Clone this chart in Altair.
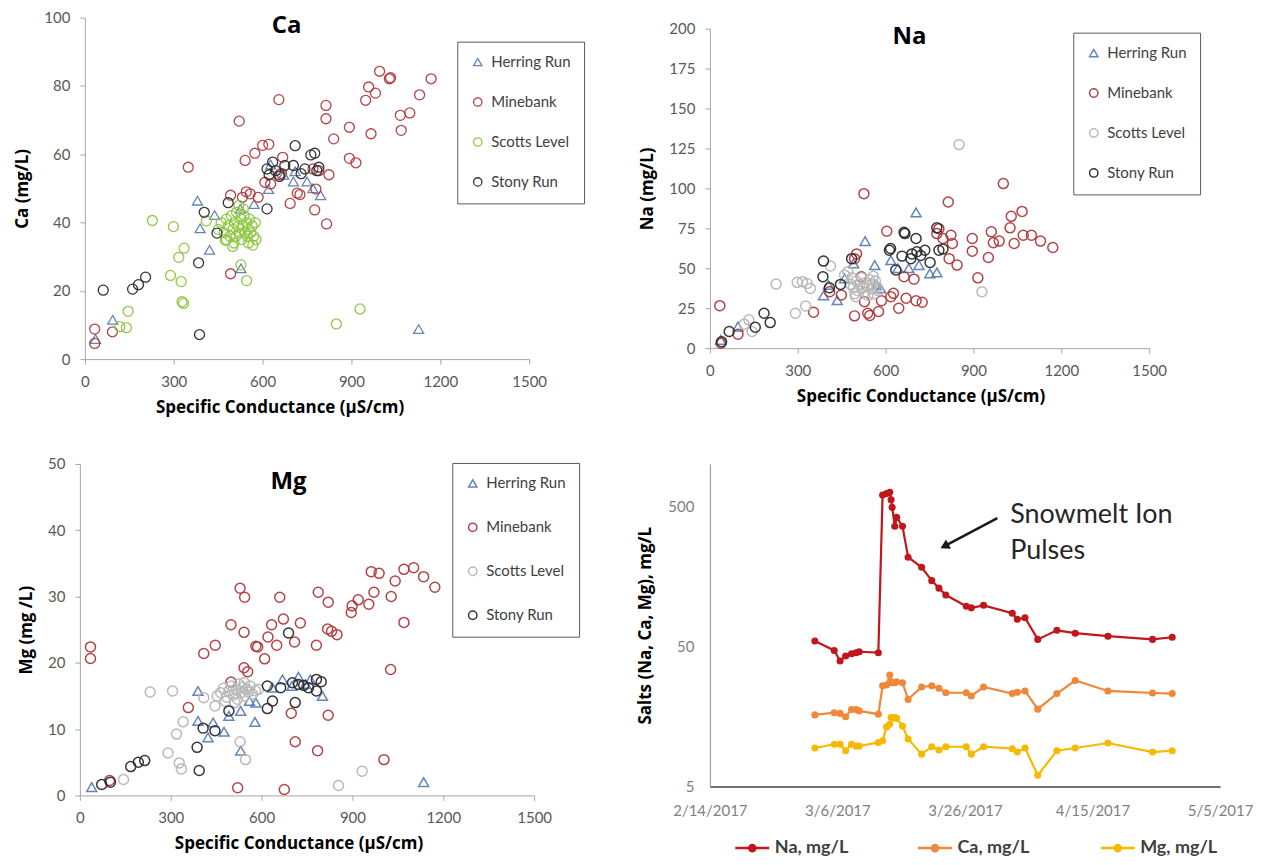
import altair as alt
import pandas as pd

FONT = "Lato"
TFONT = "Open Sans"
SITES = ["Herring Run", "Minebank", "Scotts Level", "Stony Run"]
SHAPES = ["triangle-up", "circle", "circle", "circle"]
SC_TICKS = [0, 300, 600, 900, 1200, 1500]
PANEL_TITLES = ["Ca", "Na", "Mg"]

# ---------------- Ca panel ----------------
ca_herring = [(36, 5.9), (94, 11.5), (380, 46.4), (389, 38.3), (421, 32), (438, 42.2), (527, 26.6),
              (525, 44), (571, 45.4), (620, 49.8), (627, 57), (671, 54), (704, 52), (710, 55),
              (750, 52), (770, 50), (796, 48), (1127, 8.8)]
ca_mine = [(33, 8.8), (33, 4.6), (93, 8.0), (349, 56.2), (492, 25), (492, 48), (521, 69.7), (532, 47.4),
           (541, 58.2), (545, 49), (558, 48.4), (585, 47.4), (574, 60.3), (600, 62.6), (621, 62.9),
           (608, 51.8), (627, 51.3), (655, 76), (657, 54), (664, 54.4), (668, 59.1), (693, 45.6),
           (717, 48.6), (726, 48.2), (776, 43.7), (780, 49.8), (770, 55.7), (790, 55.2), (814, 74.3),
           (814, 70.4), (816, 39.6), (824, 54), (840, 64.5), (893, 67.9), (893, 58.8), (915, 57.5),
           (948, 75.8), (958, 79.7), (981, 77.9), (995, 84.3), (966, 66), (1028, 82.1), (1032, 82.4),
           (1065, 71.4), (1068, 67), (1097, 72.1), (1130, 77.4), (1169, 82.1)]
ca_scotts = [(118, 9.5), (140, 9.2), (146, 14), (228, 40.6), (299, 38.8), (289, 24.5), (317, 29.8),
             (335, 32.5), (325, 22.7), (328, 16.8), (333, 16.3), (527, 27.6), (546, 23), (567, 33.4),
             (499, 33), (474, 34.8), (849, 10.3), (929, 14.7), (410, 40.5),
             (450, 38), (460, 40), (470, 37), (478, 41), (485, 39), (490, 36), (495, 42), (500, 38),
             (505, 40), (510, 36), (512, 43), (518, 39), (522, 37), (527, 41), (530, 35), (533, 39),
             (538, 42), (541, 37), (545, 40), (548, 36), (552, 38), (556, 41), (560, 37), (565, 39),
             (570, 36), (575, 40), (478, 35), (503, 34), (535, 44), (553, 34), (520, 45), (578, 35)]
ca_stony = [(62, 20.2), (161, 20.5), (181, 21.8), (205, 24), (384, 28.2), (387, 7.2), (403, 43),
            (446, 36.9), (484, 45.8), (615, 44), (615, 55.7), (634, 57.7), (644, 55.2), (657, 53.5),
            (675, 56.7), (704, 56.7), (710, 62.5), (730, 54.3), (743, 55.7), (763, 59.8), (776, 60.3),
            (783, 55.2), (790, 56.2), (622, 54)]

# ---------------- Na panel ----------------
na_herring = [(37, 5.2), (96, 13.5), (388, 33), (405, 39.5), (435, 30), (460, 43.7), (491, 53),
              (530, 67), (563, 52), (570, 39.5), (583, 37.4), (618, 55), (642, 50), (679, 50),
              (704, 85), (714, 52), (751, 46.8), (775, 47.4)]
na_mine = [(34, 26.6), (38, 3.1), (96, 8.7), (354, 22.5), (409, 35.3), (449, 33.3), (494, 20.2),
           (494, 56), (501, 59), (517, 44.7), (526, 96.7), (528, 29), (539, 21.8), (546, 20.4),
           (576, 22.9), (586, 29.7), (604, 73.2), (618, 32.2), (627, 34.3), (645, 25), (663, 44.7),
           (670, 31.2), (697, 43.2), (704, 29.7), (725, 28.7), (775, 71.7), (782, 74.8), (796, 68.6),
           (814, 91.5), (817, 56), (823, 70.7), (828, 65.5), (844, 52), (896, 68.6), (896, 60.7),
           (915, 44), (951, 56.7), (961, 72.8), (968, 66), (988, 67), (1002, 103), (1025, 75.3),
           (1029, 82.5), (1039, 65.5), (1066, 85.6), (1070, 70.7), (1098, 70.7), (1129, 67), (1171, 63)]
na_scotts = [(117, 15), (133, 17.7), (144, 10.4), (226, 40.1), (292, 21.8), (298, 41.2), (316, 41.6),
             (327, 26.4), (332, 40.5), (343, 37.4), (412, 51.4), (460, 45.7), (471, 47.8), (498, 32.2),
             (851, 127.4), (929, 35.3),
             (480, 40), (490, 38), (500, 42), (505, 36), (512, 40), (518, 44), (522, 38), (528, 35),
             (532, 41), (538, 39), (545, 43), (550, 37), (555, 40), (560, 34), (565, 42), (570, 38),
             (575, 36), (485, 44), (495, 34), (540, 33), (558, 45)]
na_stony = [(40, 4), (66, 10.4), (155, 13.1), (185, 21.8), (206, 16), (388, 54.5), (386, 44.7),
            (408, 37.8), (446, 39.9), (484, 56), (613, 61.3), (617, 62.4), (635, 48.9), (666, 71.7),
            (663, 72.5), (656, 57.6), (686, 56), (704, 68.6), (707, 60.3), (734, 61.3), (752, 53.6),
            (775, 75.3), (782, 61.3), (796, 62), (720, 58), (690, 59)]

# ---------------- Mg panel ----------------
mg_herring = [(39, 1.25), (390, 15.75), (390, 11.25), (440, 11), (423, 8.75), (476, 9.6), (492, 12),
              (531, 12.75), (531, 6.75), (560, 14.25), (578, 11.1), (581, 14), (636, 16.25), (669, 17.5),
              (722, 17.9), (761, 17.5), (801, 15), (1135, 2), (700, 16.5), (745, 16.8)]
mg_mine = [(35, 22.4), (35, 20.65), (98, 2.25), (358, 13.25), (409, 21.4), (447, 22.65), (499, 25.75),
           (499, 17.1), (521, 1.15), (529, 31.25), (542, 24.6), (544, 29.9), (542, 19.25), (554, 18.65),
           (581, 22.5), (587, 22.4), (610, 20.6), (621, 23.9), (633, 25.75), (650, 22.65), (660, 29.9),
           (672, 26.6), (675, 0.9), (698, 12.4), (709, 23.15), (711, 8.1), (728, 26), (781, 22.65),
           (785, 6.75), (787, 30.65), (820, 29.15), (820, 12.1), (818, 25.1), (831, 24.75), (849, 24.25),
           (896, 27.6), (899, 28.6), (919, 29.5), (954, 28.85), (962, 33.75), (971, 30.65), (988, 33.5),
           (1004, 5.4), (1028, 30), (1026, 19), (1041, 32.35), (1070, 26.1), (1070, 34.1), (1102, 34.35),
           (1135, 33), (1172, 31.4)]
mg_scotts = [(144, 2.4), (232, 15.6), (306, 15.75), (291, 6.4), (319, 9.25), (341, 11.1), (328, 4.9),
             (335, 4), (409, 14.75), (446, 13.5), (453, 15), (529, 8.1), (547, 5.4), (854, 1.5),
             (932, 3.65),
             (465, 15.5), (475, 16.2), (485, 14.8), (492, 15.8), (500, 16.5), (508, 15.2), (515, 16),
             (520, 14.5), (525, 16.8), (532, 15.5), (538, 16.3), (545, 15), (550, 16), (556, 15.6),
             (562, 16.5), (570, 15.3), (580, 15.8), (590, 16), (480, 14.2), (512, 14), (543, 17)]
mg_stony = [(72, 1.65), (101, 2), (168, 4.35), (193, 5), (214, 5.25), (387, 7.25), (394, 3.75),
            (407, 10.15), (446, 9.75), (492, 12.75), (619, 13.1), (619, 16.5), (636, 14.25),
            (663, 16.25), (689, 24.5), (711, 14), (722, 16.75), (739, 16.6), (755, 16.25), (781, 17.5),
            (781, 15.75), (797, 17.15), (702, 17)]

# ---------------- time series panel ----------------
ts_dates = ["2017-03-02T11:00:00Z", "2017-03-05T12:00:00Z", "2017-03-06T10:00:00Z", "2017-03-07T07:00:00Z",
            "2017-03-08T05:00:00Z", "2017-03-08T22:00:00Z", "2017-03-09T10:00:00Z", "2017-03-12T10:00:00Z",
            "2017-03-13T02:00:00Z", "2017-03-13T17:00:00Z", "2017-03-14T05:00:00Z", "2017-03-14T10:00:00Z",
            "2017-03-14T14:00:00Z", "2017-03-15T00:00:00Z", "2017-03-15T07:00:00Z", "2017-03-16T05:00:00Z",
            "2017-03-17T02:00:00Z", "2017-03-19T05:00:00Z", "2017-03-20T19:00:00Z", "2017-03-21T22:00:00Z",
            "2017-03-23T00:00:00Z", "2017-03-26T05:00:00Z", "2017-03-27T00:00:00Z", "2017-03-28T22:00:00Z",
            "2017-04-02T10:00:00Z", "2017-04-03T05:00:00Z", "2017-04-04T10:00:00Z", "2017-04-06T10:00:00Z",
            "2017-04-09T10:00:00Z", "2017-04-12T07:00:00Z", "2017-04-17T10:00:00Z", "2017-04-24T10:00:00Z",
            "2017-04-27T12:00:00Z"]
na_vals = [54.5, 46.7, 39.3, 42.6, 44.2, 45, 45.7, 45, 601, 615, 629, 555, 490, 359, 416, 359, 216, 183,
           147, 130, 116, 96.6, 94, 98, 86, 78, 80, 56, 65, 62, 59, 56, 58]
ca_vals = [16.2, 16.8, 16.6, 15.7, 17.7, 17.7, 17.3, 16.4, 26.1, 26.5, 31.2, 27.9, 27.5, 27.5, 27.9, 27.5,
           20.9, 25.6, 26.1, 25.1, 23.3, 23.3, 22.1, 25.6, 23.0, 23.5, 24.0, 17.8, 23.0, 28.5, 24.0, 23.2, 23.0]
mg_vals = [9.4, 10, 10, 9.0, 10, 9.7, 9.7, 10.3, 10.6, 13.3, 13.9, 15.5, 15.3, 15.5, 15.3, 13.5, 10.9,
           8.5, 9.6, 9.1, 9.6, 9.6, 8.5, 9.6, 9.3, 8.8, 9.4, 6.0, 9.0, 9.4, 10.2, 8.8, 9.0]
IONS = ["Na, mg/L", "Ca, mg/L", "Mg, mg/L"]
ION_COLORS = ["#c0161c", "#f0873a", "#f7b900"]
TS_TICKS = ["2017-02-14", "2017-03-06", "2017-03-26", "2017-04-15", "2017-05-05"]
TS_Y_TICKS = [5, 50, 500]

ann_labels = ["Snowmelt Ion", "Pulses"]
ann_label_dates = ["2017-04-02T02:00:00Z", "2017-04-02T02:00:00Z"]
ann_label_values = [435, 241]
arrow_start = ("2017-03-31T02:00:00Z", 411)
arrow_end = ("2017-03-22T19:00:00Z", 259)


def scatter_df(groups):
    rows = []
    for site, pts in zip(SITES, groups):
        for x, y in pts:
            rows.append({"site": site, "sc": x, "val": y})
    return pd.DataFrame(rows)


def scatter_panel(df, name, ytitle, ymax, yticks, w, h, colors, widths, lx, ly, rowpad, tx, ty, xtitle_x):
    leg = alt.Legend(orient="none", legendX=lx, legendY=ly, title=None, strokeColor="#595959",
                     fillColor="white", padding=13, rowPadding=rowpad, symbolSize=70,
                     symbolStrokeWidth=1.4, labelFontSize=15, labelFont=FONT, labelColor="#404040",
                     labelOffset=6)
    pts = alt.Chart(df).mark_point(filled=False, size=100, opacity=0.95).encode(
        x=alt.X("sc:Q", scale=alt.Scale(domain=[0, 1500], nice=False),
                axis=alt.Axis(values=SC_TICKS, format="d", title="Specific Conductance (µS/cm)",
                              labelPadding=10, titlePadding=10, labelFlush=False, titleX=xtitle_x)),
        y=alt.Y("val:Q", scale=alt.Scale(domain=[0, ymax], nice=False),
                axis=alt.Axis(values=yticks, format="d", title=ytitle, labelPadding=10, titlePadding=12)),
        color=alt.Color("site:N", scale=alt.Scale(domain=SITES, range=colors), legend=leg),
        shape=alt.Shape("site:N", scale=alt.Scale(domain=SITES, range=SHAPES), legend=leg),
        strokeWidth=alt.StrokeWidth("site:N", scale=alt.Scale(domain=SITES, range=widths), legend=None),
    )
    title = alt.Chart(pd.DataFrame({"t": [name]})).mark_text(
        fontSize=24, font=TFONT, fontWeight="bold", color="black", align="center", baseline="alphabetic"
    ).encode(text="t:N", x=alt.value(tx), y=alt.value(ty))
    return alt.layer(pts, title).properties(width=w, height=h)


ca_chart = scatter_panel(scatter_df([ca_herring, ca_mine, ca_scotts, ca_stony]), PANEL_TITLES[0],
                         "Ca (mg/L)", 100, [0, 20, 40, 60, 80, 100], 445, 342,
                         ["#5b7fb5", "#b03a3e", "#8dc63f", "#2b2b2b"], [1.3, 1.3, 2.4, 1.3],
                         373, 24, 24, 202, 15, 195)
na_chart = scatter_panel(scatter_df([na_herring, na_mine, na_scotts, na_stony]), PANEL_TITLES[1],
                         "Na (mg/L)", 200, [0, 25, 50, 75, 100, 125, 150, 175, 200], 440, 320,
                         ["#5b7fb5", "#b03a3e", "#b7b7b7", "#2b2b2b"], [1.5, 1.5, 1.2, 1.8],
                         364, 4, 24, 200, 15, 211)
mg_chart = scatter_panel(scatter_df([mg_herring, mg_mine, mg_scotts, mg_stony]), PANEL_TITLES[2],
                         "Mg (mg /L)", 50, [0, 10, 20, 30, 40, 50], 455, 332,
                         ["#5b7fb5", "#b03a3e", "#b7b7b7", "#2b2b2b"], [1.5, 1.5, 1.2, 1.8],
                         373, -1, 28, 209, 25, 219)

# time series
ts_rows = []
for ion, vals in zip(IONS, [na_vals, ca_vals, mg_vals]):
    for d, v in zip(ts_dates, vals):
        ts_rows.append({"date": d, "value": v, "ion": ion})
ts_df = pd.DataFrame(ts_rows)


def utc_dt(s):
    y, m, d = [int(p) for p in s.split("-")]
    return alt.DateTime(year=y, month=m, date=d, utc=True)


x_ts = alt.X("date:T",
             scale=alt.Scale(type="utc", domain=[utc_dt(TS_TICKS[0]), utc_dt(TS_TICKS[-1])]),
             axis=alt.Axis(values=[utc_dt(t) for t in TS_TICKS], format="%-m/%-d/%Y", title=None,
                           ticks=False, domainColor="#404040", domainWidth=1.5, labelPadding=17,
                           labelFontSize=15, labelColor="#7f7f7f", labelFlush=False, labelOverlap=False))
y_ts = alt.Y("value:Q", scale=alt.Scale(type="log", domain=[5, 1000], nice=False),
             axis=alt.Axis(values=TS_Y_TICKS, format="d", title="Salts (Na, Ca, Mg), mg/L", ticks=False,
                           domainColor="#8c8c8c", labelPadding=16, titlePadding=13, labelFontSize=15,
                           labelColor="#7f7f7f"))

ts_legend = alt.Legend(orient="none", direction="horizontal", columns=3, legendX=24, legendY=366,
                       title=None,
                       symbolType="M-1,0L1,0M-0.18,0A0.18,0.18,0,1,0,0.18,0A0.18,0.18,0,1,0,-0.18,0",
                       symbolSize=1156, symbolStrokeWidth=2.5, labelFontSize=18, labelFontWeight="bold",
                       labelFont=FONT, labelColor="#404040", labelOffset=4, columnPadding=60,
                       gridAlign="all", padding=0)

ts_lines = alt.Chart(ts_df).mark_line(
    strokeWidth=2.2, point=alt.OverlayMarkDef(filled=True, size=50, opacity=1)
).encode(
    x=x_ts, y=y_ts,
    color=alt.Color("ion:N", scale=alt.Scale(domain=IONS, range=ION_COLORS), legend=ts_legend, sort=IONS),
)

arrow_df = pd.DataFrame({"date": [arrow_start[0]], "value": [arrow_start[1]],
                         "date2": [arrow_end[0]], "value2": [arrow_end[1]]})
arrow_line = alt.Chart(arrow_df).mark_rule(strokeWidth=2.5, color="#1a1a1a").encode(
    x="date:T", y="value:Q", x2="date2:T", y2="value2:Q")
arrow_head_df = pd.DataFrame({"date": [arrow_end[0]], "value": [arrow_end[1]]})
arrow_head = alt.Chart(arrow_head_df).mark_point(shape="triangle-up", filled=True, size=110, angle=242,
                                                 color="#1a1a1a", opacity=1).encode(
    x="date:T", y="value:Q")
ann_df = pd.DataFrame({"date": ann_label_dates, "value": ann_label_values, "label": ann_labels})
ann_text = alt.Chart(ann_df).mark_text(align="left", baseline="middle", fontSize=27, font=FONT,
                                       color="#262626").encode(x="date:T", y="value:Q", text="label:N")

ts_chart = alt.layer(ts_lines, arrow_line, arrow_head, ann_text).properties(width=511, height=323)

chart = alt.concat(ca_chart, na_chart, mg_chart, ts_chart, columns=2,
                   spacing={"row": 105, "column": 176}, bounds="flush", center=True).resolve_scale(
    color="independent", shape="independent", strokeWidth="independent", x="independent", y="independent"
).properties(
    padding={"left": 5, "top": 2, "right": 0, "bottom": 0}
).configure_view(stroke=None).configure_axis(
    domainColor="#a6a6a6", tickColor="#a6a6a6", tickSize=5, labelColor="#595959", labelFontSize=15,
    labelFont=FONT, titleFont=TFONT, titleFontSize=17, titleFontWeight="bold", titleColor="black", grid=False
)

chart.save("out.html", embed_options={"renderer": "svg", "actions": False})
